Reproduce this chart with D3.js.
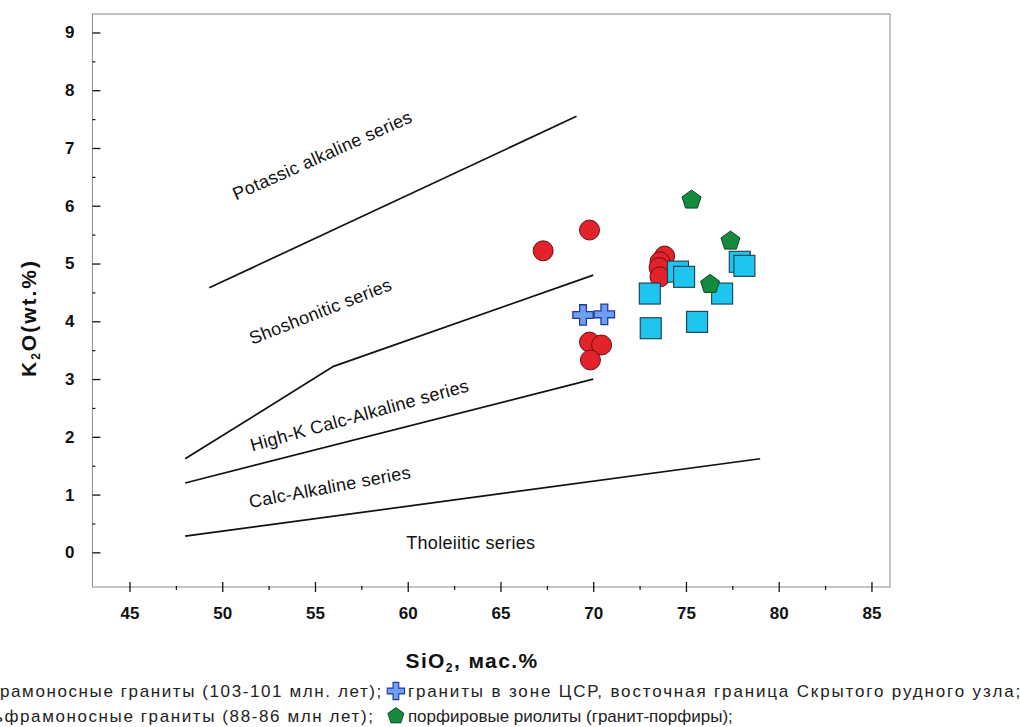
<!DOCTYPE html>
<html>
<head>
<meta charset="utf-8">
<script src="https://cdn.jsdelivr.net/npm/d3@7"></script>
<style>
  html, body { margin: 0; padding: 0; background: #fff; }
  svg { display: block; font-family: "Liberation Sans", Arial, sans-serif; }
</style>
</head>
<body>
<svg id="chart" width="1020" height="727"></svg>
<script>
// Axis ticks
const siO2Ticks = [45, 50, 55, 60, 65, 70, 75, 80, 85];
const siO2MinorTicks = [47.5, 52.5, 57.5, 62.5, 67.5, 72.5, 77.5, 82.5];
const k2oTicks = [0, 1, 2, 3, 4, 5, 6, 7, 8, 9];
const k2oMinorTicks = [0.5, 1.5, 2.5, 3.5, 4.5, 5.5, 6.5, 7.5, 8.5];

// Series boundaries (SiO2, K2O)
const tholeiiticBoundary = [[48, 0.28], [79, 1.62]];
const calcAlkalineBoundary = [[48, 1.2], [70, 3.0]];
const highKBoundary = [[48, 1.62], [56, 3.22], [70, 4.8]];
const shoshoniticBoundary = [[49.3, 4.58], [69.1, 7.55]];

// Field names: [text, SiO2, K2O, angle]
const fieldLabels = [
  ["Potassic alkaline series", 55.4, 6.87, -24],
  ["Shoshonitic series", 55.3, 4.17, -21.5],
  ["High-K Calc-Alkaline series", 57.4, 2.37, -15.5],
  ["Calc-Alkaline series", 55.8, 1.13, -10.5],
  ["Tholeiitic series", 63.4, 0.16, 0]
];

// Tungsten-bearing granites, 103-101 Ma
const granite103SiO2 = [67.3, 69.8, 73.85, 73.6, 73.55, 73.6, 69.8, 70.45, 69.85];
const granite103K2O  = [5.22, 5.58, 5.13, 5.03, 4.93, 4.77, 3.64, 3.59, 3.33];
// Tungsten-bearing granites, 88-86 Ma
const granite88SiO2 = [74.57, 74.9, 73.05, 77.9, 78.15, 76.95, 73.1, 75.6];
const granite88K2O  = [4.86, 4.77, 4.48, 5.03, 4.96, 4.48, 3.88, 3.99];
// Granites of the CSR zone, eastern border of the Skryty ore cluster
const csrGraniteSiO2 = [69.45, 70.6];
const csrGraniteK2O  = [4.11, 4.12];
// Porphyry rhyolites (granite porphyries)
const rhyoliteSiO2 = [75.3, 77.4, 76.3];
const rhyoliteK2O  = [6.1, 5.39, 4.64];

const legendLabels = [
  "вольфрамоносные граниты (103-101 млн. лет);",
  "граниты в зоне ЦСР, восточная граница Скрытого рудного узла;",
  "вольфрамоносные граниты (88-86 млн лет);",
  "порфировые риолиты (гранит-порфиры);"
];

const svg = d3.select("#chart");
svg.append("rect").attr("width", 1020).attr("height", 727).attr("fill", "#fff");

const x = d3.scaleLinear().domain([43, 86]).range([92.4, 890]);
const y = d3.scaleLinear().domain([-0.6, 9.32]).range([587, 14]);

// Plot frame
svg.append("rect")
  .attr("x", x(43)).attr("y", y(9.32))
  .attr("width", x(86) - x(43)).attr("height", y(-0.6) - y(9.32))
  .attr("fill", "none").attr("stroke", "#8a8a8a").attr("stroke-width", 1);

// X axis
const xAxis = svg.append("g")
  .attr("transform", `translate(0,${y(-0.6)})`)
  .call(d3.axisBottom(x).tickValues(siO2Ticks).tickSizeInner(5).tickSizeOuter(0).tickPadding(15));
xAxis.select(".domain").remove();
xAxis.selectAll(".tick line").attr("y1", -5).attr("stroke", "#111").attr("stroke-width", 1.3);
xAxis.selectAll(".tick text")
  .attr("font-size", 17).attr("font-weight", "bold").attr("fill", "#111")
  .attr("font-family", "Liberation Sans, Arial, sans-serif");

const xMinor = svg.append("g")
  .attr("transform", `translate(0,${y(-0.6)})`)
  .call(d3.axisBottom(x).tickValues(siO2MinorTicks).tickSizeInner(3).tickSizeOuter(0).tickFormat(""));
xMinor.select(".domain").remove();
xMinor.selectAll(".tick line").attr("y1", -1).attr("stroke", "#111").attr("stroke-width", 1.2);

// Y axis
const yAxis = svg.append("g")
  .attr("transform", `translate(${x(43)},0)`)
  .call(d3.axisLeft(y).tickValues(k2oTicks).tickSizeInner(-8).tickSizeOuter(0).tickPadding(18));
yAxis.select(".domain").remove();
yAxis.selectAll(".tick line").attr("stroke", "#111").attr("stroke-width", 1.3);
yAxis.selectAll(".tick text")
  .attr("font-size", 17).attr("font-weight", "bold").attr("fill", "#111")
  .attr("font-family", "Liberation Sans, Arial, sans-serif");

const yMinor = svg.append("g")
  .attr("transform", `translate(${x(43)},0)`)
  .call(d3.axisLeft(y).tickValues(k2oMinorTicks).tickSizeInner(-3).tickSizeOuter(0).tickFormat(""));
yMinor.select(".domain").remove();
yMinor.selectAll(".tick line").attr("stroke", "#111").attr("stroke-width", 1.2);

// Axis titles
const yTitle = svg.append("text")
  .attr("transform", `translate(36,${318}) rotate(-90)`)
  .attr("text-anchor", "middle").attr("letter-spacing", 2)
  .attr("font-size", 21).attr("font-weight", "bold").attr("fill", "#111");
yTitle.append("tspan").text("K");
yTitle.append("tspan").attr("font-size", 12).attr("dy", 4).text("2");
yTitle.append("tspan").attr("dy", -4).text("O(wt.%)");

const xTitle = svg.append("text")
  .attr("x", 472).attr("y", 668)
  .attr("text-anchor", "middle").attr("letter-spacing", 1.4)
  .attr("font-size", 21).attr("font-weight", "bold").attr("fill", "#111");
xTitle.append("tspan").text("SiO");
xTitle.append("tspan").attr("font-size", 12).attr("dy", 4).text("2");
xTitle.append("tspan").attr("dy", -4).text(", мас.%");

// Boundary lines
const line = d3.line().x(d => x(d[0])).y(d => y(d[1]));
[tholeiiticBoundary, calcAlkalineBoundary, highKBoundary, shoshoniticBoundary].forEach(b => {
  svg.append("path").attr("d", line(b))
    .attr("fill", "none").attr("stroke", "#111").attr("stroke-width", 1.7);
});

// Field names
fieldLabels.forEach(([t, sx, ky, a]) => {
  svg.append("text")
    .attr("transform", `translate(${x(sx)},${y(ky)}) rotate(${a})`)
    .attr("text-anchor", "middle").attr("dominant-baseline", "central")
    .attr("font-size", 18).attr("letter-spacing", 0.3).attr("fill", "#111").text(t);
});

// Marker shapes
function pentagon(r) {
  const pts = d3.range(5).map(i => {
    const a = -Math.PI / 2 + i * 2 * Math.PI / 5;
    return [r * Math.cos(a), r * Math.sin(a)];
  });
  return "M" + pts.map(p => p.join(",")).join("L") + "Z";
}
const styles = {
  circle: g => g.append("circle").attr("r", 10).attr("fill", "#e2232b").attr("stroke", "#6a1014").attr("stroke-width", 1),
  square: g => g.append("rect").attr("x", -10.5).attr("y", -10.5).attr("width", 21).attr("height", 21)
    .attr("fill", "#1ec5ee").attr("stroke", "#1c3c4a").attr("stroke-width", 1.1),
  cross: g => g.append("path").attr("d", d3.symbol(d3.symbolCross, 230)())
    .attr("fill", "#6e9ff3").attr("stroke", "#1f3a9c").attr("stroke-width", 1.3),
  pentagon: g => g.append("path").attr("d", pentagon(10))
    .attr("fill", "#138a3d").attr("stroke", "#0b4a20").attr("stroke-width", 1)
};

function drawSeries(xs, ys, kind) {
  xs.forEach((v, i) => {
    const g = svg.append("g").attr("transform", `translate(${x(v)},${y(ys[i])})`);
    styles[kind](g);
  });
}
drawSeries(granite103SiO2, granite103K2O, "circle");
drawSeries(csrGraniteSiO2, csrGraniteK2O, "cross");
drawSeries(granite88SiO2, granite88K2O, "square");
drawSeries(rhyoliteSiO2, rhyoliteK2O, "pentagon");

// Legend: a caption paragraph running on from the left, two rows
const legendFont = 17;
function textWidth(str, spacing) {
  const t = svg.append("text").attr("font-size", legendFont).attr("letter-spacing", spacing).text(str);
  const w = t.node().getComputedTextLength();
  t.remove();
  return w;
}
const legendRows = [
  { y: 697, spacing: [1.6, 1.85], lead: "вольф", shift: 0,
    items: [[legendLabels[0], "circle"], [legendLabels[1], "cross"]] },
  { y: 722, spacing: [1.6, 0], lead: "вол", shift: 6,
    items: [[legendLabels[2], "square"], [legendLabels[3], "pentagon"]] }
];
let iconX = null;
legendRows.forEach(row => {
  const [firstText, firstKind] = row.items[0];
  const startX = -textWidth(row.lead, row.spacing[0]) - row.shift;
  svg.append("text").attr("x", startX).attr("y", row.y)
    .attr("font-size", legendFont).attr("letter-spacing", row.spacing[0])
    .attr("fill", "#222").text(firstText);
  styles[firstKind](svg.append("g").attr("transform", `translate(${startX - 14},${row.y - 6}) scale(0.85)`));
  if (iconX === null) iconX = startX + textWidth(firstText, row.spacing[0]) + 13;
  const [secText, secKind] = row.items[1];
  styles[secKind](svg.append("g").attr("transform", `translate(${iconX},${row.y - 6}) scale(0.85)`));
  svg.append("text").attr("x", iconX + 12).attr("y", row.y)
    .attr("font-size", legendFont).attr("letter-spacing", row.spacing[1])
    .attr("fill", "#222").text(secText);
});
</script>
</body>
</html>
